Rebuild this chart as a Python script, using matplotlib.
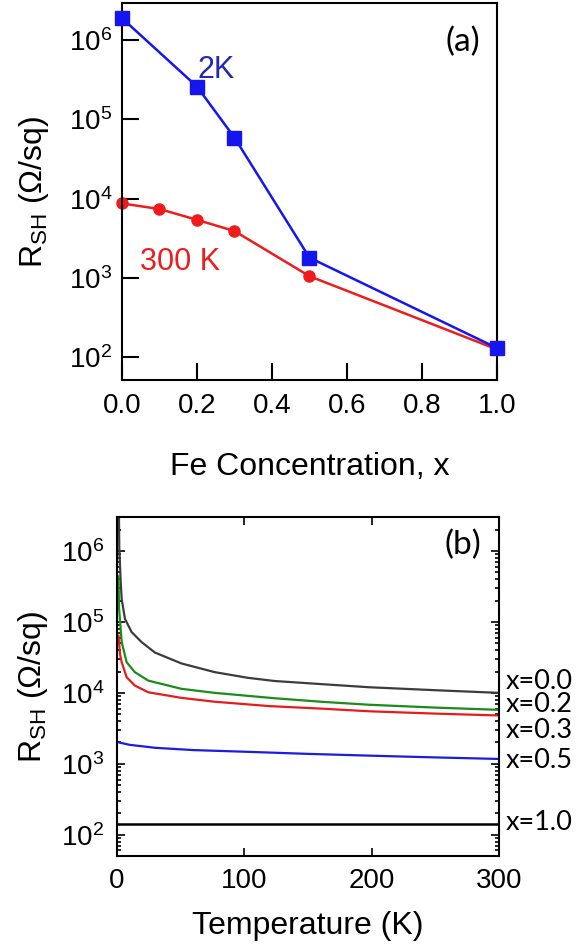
import numpy as np
import matplotlib
matplotlib.use('Agg')
import matplotlib.pyplot as plt

# ---- 数据 ----
fe_x = [0.0, 0.2, 0.3, 0.5, 1.0]
r_2k = [1.9e6, 2.6e5, 5.9e4, 1.8e3, 130]
fe_x_300 = [0.0, 0.1, 0.2, 0.3, 0.5, 1.0]
r_300k = [8.7e3, 7.4e3, 5.4e3, 3.9e3, 1.05e3, 125]

t_00 = [1.5, 1.8, 2.9, 3.7, 6.3, 11.5, 19.3, 29.8, 50.6, 76.7, 102.8, 123.7, 160, 198, 250, 300]
r_00 = [4e6, 1.1e6, 3.7e5, 2.1e5, 1.1e5, 7.2e4, 5.2e4, 3.7e4, 2.6e4, 1.96e4, 1.63e4, 1.47e4,
        1.33e4, 1.2e4, 1.09e4, 1.0e4]
t_02 = [1.2, 1.6, 2.3, 3.7, 7.6, 14, 24.5, 50.6, 76.7, 123.7, 160, 198, 250, 300]
r_02 = [4.4e5, 1.6e5, 1.1e5, 5.2e4, 2.7e4, 1.96e4, 1.49e4, 1.14e4, 1.0e4, 8.4e3, 7.5e3, 6.8e3,
        6.2e3, 5.76e3]
t_03 = [1.2, 2.4, 3.7, 7.6, 14, 24.5, 50.6, 76.7, 120, 160, 198, 250, 300]
r_03 = [6.4e4, 3.5e4, 2.7e4, 1.66e4, 1.27e4, 1.02e4, 8.5e3, 7.5e3, 6.5e3, 6.0e3, 5.5e3, 5.1e3, 4.8e3]
t_05 = [1.5, 10, 30, 60, 100, 150, 200, 250, 300]
r_05 = [2.0e3, 1.85e3, 1.68e3, 1.56e3, 1.48e3, 1.38e3, 1.3e3, 1.23e3, 1.17e3]
t_10 = [0, 300]
r_10 = [143, 143]

curve_labels = ['x=0.0', 'x=0.2', 'x=0.3', 'x=0.5', 'x=1.0']

plt.rcParams['font.family'] = ['Liberation Sans', 'DejaVu Sans']
plt.rcParams['mathtext.fontset'] = 'custom'
plt.rcParams['mathtext.rm'] = 'Liberation Sans'
plt.rcParams['mathtext.it'] = 'Liberation Sans:italic'
plt.rcParams['axes.linewidth'] = 1.5

fig = plt.figure(figsize=(5.82, 9.47), dpi=100)
calibri_like = ['Lato', 'DejaVu Sans']

# (a) 上图
ax1 = fig.add_axes([0.2096, 0.5987, 0.6443, 0.3981])
ax1.plot(fe_x, r_2k, '-s', color='#1515f0', lw=1.8, ms=9.5, clip_on=False, zorder=3)
ax1.plot(fe_x_300, r_300k, '-o', color='#ee1c1c', lw=1.8, ms=8, clip_on=False, zorder=2)
ax1.set_yscale('log')
ax1.set_xlim(0, 1.0)
ax1.set_ylim(10 ** 1.71, 10 ** 6.47)
ax1.set_xticks([0, 0.2, 0.4, 0.6, 0.8, 1.0])
ax1.set_xticklabels(['0.0', '0.2', '0.4', '0.6', '0.8', '1.0'])
ax1.minorticks_off()
ax1.tick_params(direction='in', length=12, width=1.5, labelsize=20, pad=9)
ax1.tick_params(axis='y', labelsize=20, pad=7)
ax1.set_xlabel('Fe Concentration, x', fontsize=23, labelpad=24)
ax1.set_ylabel(r'R$_{\mathrm{SH}}$ ($\Omega$/sq)', fontsize=23)
ax1.yaxis.set_label_coords(-0.19, 0.5)
ax1.text(0.25, 0.822, '2K', transform=ax1.transAxes, fontsize=22, color='#2626b0',
         ha='center', va='center')
ax1.text(0.155, 0.313, '300 K', transform=ax1.transAxes, fontsize=22, color='#ee1c1c',
         ha='center', va='center')
ax1.text(0.909, 0.897, '(a)', transform=ax1.transAxes, fontsize=24, family=calibri_like,
         ha='center', va='center')

# (b) 下图
ax2 = fig.add_axes([0.201, 0.0961, 0.6563, 0.358])
ax2.plot(t_00, r_00, color='#3c3c3c', lw=1.6)
ax2.plot(t_02, r_02, color='#1a8c1a', lw=1.6)
ax2.plot(t_03, r_03, color='#e51c1c', lw=1.6)
ax2.plot(t_05, r_05, color='#1c1ce0', lw=1.6)
ax2.plot(t_10, r_10, color='black', lw=1.8)
ax2.set_yscale('log')
ax2.set_xlim(0, 300)
ax2.set_ylim(10 ** 1.70, 10 ** 6.48)
ax2.set_xticks([0, 100, 200, 300])
ax2.tick_params(which='both', direction='in', top=True, right=True, width=1.2)
ax2.tick_params(which='major', length=6, labelsize=20, pad=9)
ax2.tick_params(which='minor', length=3)
ax2.set_xlabel('Temperature (K)', fontsize=23, labelpad=12)
ax2.set_ylabel(r'R$_{\mathrm{SH}}$ ($\Omega$/sq)', fontsize=23)
ax2.yaxis.set_label_coords(-0.175, 0.5)
ax2.text(0.906, 0.917, '(b)', transform=ax2.transAxes, fontsize=24, family=calibri_like,
         ha='center', va='center')

# 右侧标注，位置相对各曲线末端
label_y = [r_00[-1] * 1.43, r_02[-1] * 1.18, r_03[-1] * 0.61, r_05[-1] * 0.94, r_10[-1] * 1.05]
for lab, yy in zip(curve_labels, label_y):
    ax2.annotate(lab, xy=(1.0, yy), xycoords=('axes fraction', 'data'), xytext=(5, 0),
                 textcoords='offset points', fontsize=19.5, family=calibri_like,
                 ha='left', va='center', annotation_clip=False)

fig.savefig('out.png', dpi=100)
